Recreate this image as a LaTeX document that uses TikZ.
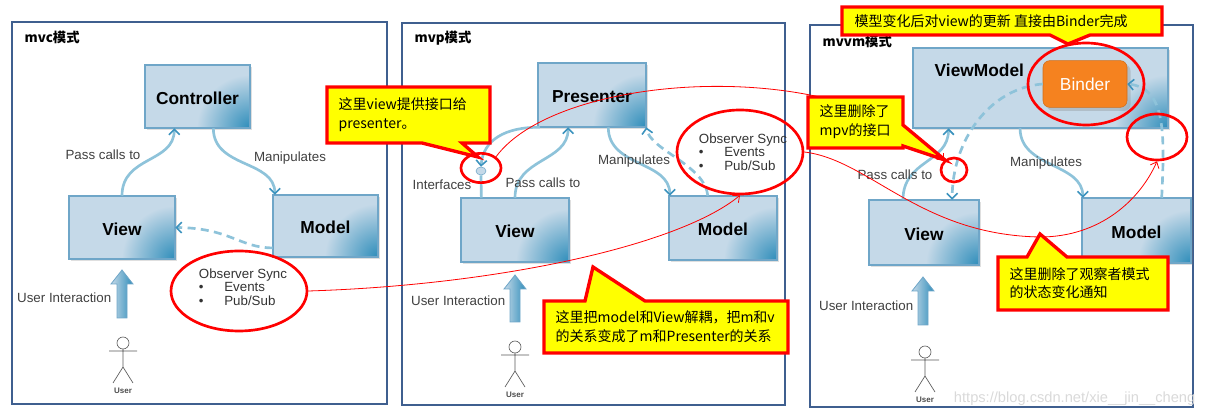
\documentclass[tikz,border=0pt]{standalone}
\usepackage{fontspec}
\setmainfont{Liberation Sans}
\newfontfamily\cjk{Noto Sans CJK SC}
\usetikzlibrary{arrows.meta,calc,fit,shapes.geometric,shadows}
\definecolor{boxfill}{HTML}{C5D9E8}
\definecolor{boxdark}{HTML}{2E8DBA}
\definecolor{boxedge}{HTML}{6FA6C8}
\definecolor{lineblue}{HTML}{8EC3DA}
\definecolor{tipblue}{HTML}{3C93BE}
\definecolor{panel}{HTML}{3F5F8F}
\definecolor{binder}{HTML}{F5821F}
\definecolor{cyel}{HTML}{FFFF00}
\newcommand\mbx[6]{%
  \fill[boxfill,drop shadow={opacity=0.25,shadow xshift=1.5pt,shadow yshift=-1.5pt}] (#2,#3) rectangle (#4,#5);
  \begin{scope}\clip (#2,#3) rectangle (#4,#5);
    \shade[inner color=boxdark, outer color=boxfill] (#4,#5) circle (40pt);\end{scope}
  \draw[boxedge,line width=1pt] (#2,#3) rectangle (#4,#5);
  \node[fit={(#2,#3)(#4,#5)},inner sep=0pt] (#1) {};
  \node[font=\fontsize{13}{15}\selectfont\bfseries] (#1t) at ([yshift=-1pt]#1.center) {#6};}
\newcommand\uarr[3]{%
  \shade[left color=boxfill,right color=boxdark,draw=boxedge,line width=0.6pt]
   (#1-5,#3) -- (#1-5,#2+14) -- (#1-11,#2+14) -- (#1,#2) -- (#1+11,#2+14) -- (#1+5,#2+14) -- (#1+5,#3) -- cycle;}
\newcommand\stick[2]{%
  \draw[gray!70!black,line width=0.5pt] (#1,#2) circle (4.5pt);
  \draw[gray!70!black,line width=0.5pt] (#1,#2+6) -- (#1,#2+24) (#1-14,#2+8) -- (#1+14,#2+8)
    (#1-10,#2+40) -- (#1,#2+24) -- (#1+10,#2+40);
  \node[font=\fontsize{6}{7}\selectfont\bfseries,text=gray!60!black] at (#1,#2+48) {User};}
\tikzset{
  conn/.style={draw=lineblue,line width=2pt,-{Straight Barb[length=4pt,width=8pt,color=tipblue,line width=1.2pt]}},
  dconn/.style={conn,dash pattern=on 6pt off 4pt},
  lbl/.style={font=\fontsize{10}{12}\selectfont,text=black!75},
  obs/.style={font=\fontsize{10}{11}\selectfont,text=black!80,align=left},
  ring/.style={draw=red,line width=2pt,ellipse,inner sep=0pt},
  redl/.style={draw=red,line width=0.6pt,-{Straight Barb[length=4pt,width=7pt]}},
  callout/.style={fill=cyel,draw=red,line width=2.5pt,line join=miter},
  ctext/.style={font=\cjk\fontsize{10.5}{14}\selectfont,align=left,anchor=west},
  ttl/.style={font=\cjk\bfseries\fontsize{10}{12}\selectfont,anchor=west}
}
\begin{document}
\begin{tikzpicture}[x=0.75pt,y=-0.75pt]
\useasboundingbox (0,0) rectangle (1208,416);
% panels
\draw[panel,line width=0.8pt] (12,22) rectangle (387,404);
\draw[panel,line width=0.8pt] (402,23) rectangle (785,405);
\draw[panel,line width=0.8pt] (810,25) rectangle (1193,407);
\node[ttl] (t1) at (20,37) {mvc模式};
\node[ttl] (t2) at (410,38) {mvp模式};
\node[ttl] (t3) at (818,41) {mvvm模式};
% ---- panel 1
\mbx{c1}{145}{65}{250}{128}{Controller}
\mbx{v1}{69}{196}{175}{259}{View}
\mbx{m1}{273}{195}{378}{257}{Model}
\draw[conn] (v1.north) .. controls +(0,-40) and +(0,35) .. ($(c1.south west)!0.28!(c1.south east)$);
\draw[conn] ($(c1.south west)!0.65!(c1.south east)$) .. controls +(0,40) and +(0,-35) .. ($(m1.north west)!0.02!(m1.north east)$);
\draw[dconn] ($(m1.north west)!0.85!(m1.south west)$) .. controls (240,248) and (230,228) .. (v1.east);
\node[lbl] (p1) at (103,155) {Pass calls to};
\node[lbl] (mp1) at (290,158) {Manipulates};
\node[ring,minimum width=136pt*0.75,minimum height=80pt*0.75] (ob1) at (239,291) {};
\node[obs] (obt1) at (243,287) {Observer Sync\\[-1pt]\textbullet\quad\ \ Events\\[-1pt]\textbullet\quad\ \ Pub/Sub};
\uarr{122}{270}{318}
\node[lbl,anchor=east] (u1) at (116,298) {User Interaction};
\stick{123}{343}
% ---- panel 2
\mbx{pr}{538}{63}{646}{127}{Presenter}
\mbx{v2}{461}{198}{569}{262}{View}
\mbx{m2}{669}{196}{777}{260}{Model}
\node[ellipse,fill=boxfill,draw=boxedge,minimum width=7.5pt,minimum height=6pt,inner sep=0pt] (if) at (481,171) {};
\draw[lineblue,line width=2pt] ($(v2.north west)!0.19!(v2.north east)$) -- (if.south);
\draw[conn] (v2.north) .. controls +(0,-40) and +(0,35) .. ($(pr.south west)!0.28!(pr.south east)$);
\draw[conn] ($(pr.south west)!0.02!(pr.south east)$) .. controls (505,127) and (483,140) .. (if.north);
\draw[conn] ($(pr.south west)!0.65!(pr.south east)$) .. controls +(0,40) and +(0,-35) .. ($(m2.north west)!0.01!(m2.north east)$);
\draw[dconn] ($(m2.north west)!0.36!(m2.north east)$) .. controls (705,165) and (650,150) .. (pr.south east);
\node[lbl] (ifl) at (442,185) {Interfaces};
\node[lbl] (p2) at (543,183) {Pass calls to};
\node[lbl] (mp2) at (634,161) {Manipulates};
\node[ring,minimum width=126pt*0.75,minimum height=84pt*0.75] (ob2) at (740,152) {};
\node[obs] (obt2) at (743,152) {Observer Sync\\[-1pt]\textbullet\quad\ \ Events\\[-1pt]\textbullet\quad\ \ Pub/Sub};
\node[ring,minimum width=30pt,minimum height=22pt] (rif) at (481,168) {};
\uarr{515}{275}{322}
\node[lbl,anchor=east] (u2) at (510,301) {User Interaction};
\stick{515}{347}
% ---- panel 3
\mbx{vm}{913}{48}{1168}{128}{}
\node[font=\fontsize{13}{15}\selectfont\bfseries,anchor=west] (vmt) at (930,70) {ViewModel};
\node[fill=binder,draw=binder!85!black,rounded corners=5pt,minimum width=63pt,minimum height=35pt,
  text=white,font=\fontsize{13}{15}\selectfont,drop shadow={opacity=0.3}] (bd) at (1085,84) {Binder};
\mbx{v3}{869}{200}{979}{265}{View}
\mbx{m3}{1082}{198}{1191}{263}{Model}
\draw[conn] ($(v3.north west)!0.31!(v3.north east)$) .. controls +(0,-40) and +(0,35) .. ($(vm.south west)!0.14!(vm.south east)$);
\draw[dconn] (bd.west) .. controls (990,88) and (952,140) .. ($(v3.north west)!0.755!(v3.north east)$);
\draw[conn] ($(vm.south west)!0.42!(vm.south east)$) .. controls +(0,40) and +(0,-35) .. ($(m3.north west)!0.01!(m3.north east)$);
\draw[dconn] ($(m3.north west)!0.73!(m3.north east)$) .. controls (1165,130) and (1165,88) .. (bd.east);
\node[lbl] (p3) at (895,175) {Pass calls to};
\node[lbl] (mp3) at (1046,163) {Manipulates};
\node[ring,minimum width=116pt*0.75,minimum height=82pt*0.75] (rb) at (1086,84) {};
\node[ring,minimum width=60pt*0.75,minimum height=46pt*0.75] (rm) at (1157,137) {};
\node[ring,minimum width=26pt*0.75,minimum height=24pt*0.75] (rv) at (954,170) {};
\uarr{923}{277}{325}
\node[lbl,anchor=east] (u3) at (918,306) {User Interaction};
\stick{925}{352}
\node[font=\fontsize{11}{13}\selectfont,text=gray!30,anchor=east] (wm) at (1200,399) {https://blog.csdn.net/xie\_\_jin\_\_cheng};
% ---- red links
\draw[redl] (ob1.east) .. controls (500,285) and (680,245) .. (ob2.south);
\draw[redl] (rif.north east) .. controls (560,70) and (850,55) .. (rv.north west);
\draw[red,line width=0.6pt] (ob2.east) .. controls (870,160) and (920,235) .. (1040,237) coordinate (mid);
\draw[redl] (mid) .. controls (1100,237) and (1140,200) .. (rm.south);
% ---- callouts
\draw[callout] (327,87) -- (490,87) -- (490,143) -- (462,143) -- (478,157) -- (422,143) -- (327,143) -- cycle;
\node[ctext] (k1) at (334,115) {这里view提供接口给\\presenter。};
\draw[callout] (544,301) -- (585,301) -- (593,267) -- (645,301) -- (788,301) -- (788,353) -- (544,353) -- cycle;
\node[ctext] (k2) at (551,327) {这里把model和View解耦，把m和v\\的关系变成了m和Presenter的关系};
\draw[callout] (842,7) -- (1162,7) -- (1162,35) -- (1090,35) -- (1068,44) -- (1050,35) -- (842,35) -- cycle;
\node[ctext] (k3) at (850,21) {模型变化后对view的更新 直接由Binder完成};
\draw[callout] (808,97) -- (903,97) -- (903,125) -- (945,160) -- (903,146) -- (903,148) -- (808,148) -- cycle;
\node[ctext] (k4) at (815,122) {这里删除了\\mpv的接口};
\draw[callout] (998,257) -- (1027,257) -- (1040,234) -- (1067,257) -- (1168,257) -- (1168,310) -- (998,310) -- cycle;
\node[ctext] (k5) at (1005,283) {这里删除了观察者模式\\的状态变化通知};
\end{tikzpicture}
\end{document}
